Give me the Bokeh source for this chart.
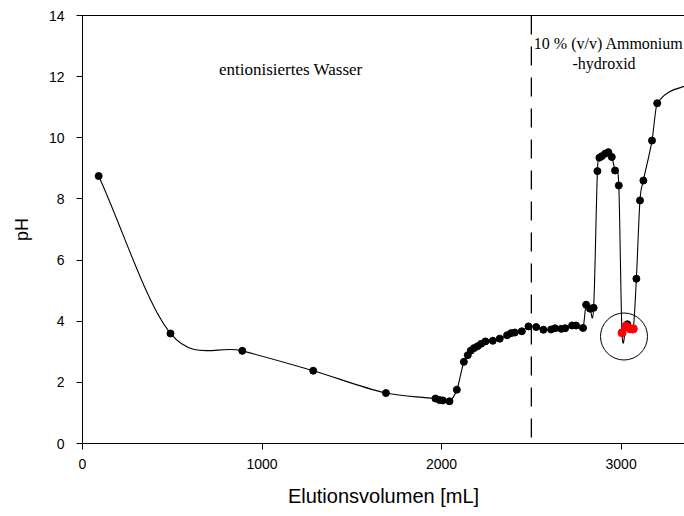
import numpy as np
from bokeh.plotting import figure
from bokeh.models import Range1d, LinearAxis, Span, FixedTicker
from bokeh.core.properties import value
from bokeh.embed import file_html
from bokeh.resources import INLINE

# --- data ---
black_x = [90, 490, 890, 1285, 1690, 1966, 1989, 2007, 2044, 2085, 2124, 2146,
           2163, 2181, 2200, 2220, 2244, 2285, 2324, 2365, 2387, 2408, 2447,
           2484, 2527, 2567, 2610, 2632, 2667, 2688, 2727, 2749, 2788, 2805,
           2827, 2847, 2868, 2879, 2892, 2911, 2929, 2948, 2966, 2987, 3035,
           3085, 3105, 3124, 3172, 3201, 3400]
black_y = [8.75, 3.60, 3.03, 2.38, 1.65, 1.47, 1.42, 1.41, 1.38, 1.76, 2.67, 2.89,
           3.04, 3.12, 3.18, 3.26, 3.34, 3.36, 3.43, 3.54, 3.61, 3.63, 3.67,
           3.83, 3.81, 3.72, 3.73, 3.77, 3.75, 3.77, 3.86, 3.86, 3.78, 4.54,
           4.41, 4.44, 8.91, 9.35, 9.40, 9.48, 9.53, 9.37, 8.93, 8.44, 3.90,
           5.39, 7.95, 8.60, 9.91, 11.13, 11.80]
red_x = [3005, 3027, 3050, 3068]
red_y = [3.62, 3.84, 3.75, 3.75]

x_ticks = [0, 1000, 2000, 3000]
y_ticks = [0, 2, 4, 6, 8, 10, 12, 14]

solvent_change = 2500
label_water = "entionisiertes Wasser"
label_nh4_1 = "10 % (v/v) Ammonium"
label_nh4_2 = "-hydroxid"
highlight_center = (3016, 3.5)

# --- smooth curve through all points (cubic Hermite drawn as Bezier) ---
cx = np.array(black_x + red_x, dtype=float)
cy = np.array(black_y + red_y, dtype=float)
order = np.argsort(cx)
cx, cy = cx[order], cy[order]
n = len(cx)
m = np.zeros(n)
m[0] = (cy[1] - cy[0]) / (cx[1] - cx[0])
m[-1] = (cy[-1] - cy[-2]) / (cx[-1] - cx[-2])
for i in range(1, n - 1):
    m[i] = (cy[i + 1] - cy[i - 1]) / (cx[i + 1] - cx[i - 1])
h = cx[1:] - cx[:-1]
x0, y0 = cx[:-1], cy[:-1]
x1, y1 = cx[1:], cy[1:]
cx0, cy0 = x0 + h / 3, y0 + m[:-1] * h / 3
cx1, cy1 = x1 - h / 3, y1 - m[1:] * h / 3

p = figure(width=684, height=516, output_backend="svg", toolbar_location=None,
           x_range=Range1d(0, 3353), y_range=Range1d(0, 14),
           min_border_left=82, min_border_right=0, min_border_top=15,
           min_border_bottom=73)
p.outline_line_color = None
p.xgrid.visible = False
p.ygrid.visible = False
p.background_fill_color = "white"
p.border_fill_color = "white"

p.bezier(x0=x0, y0=y0, x1=x1, y1=y1, cx0=cx0, cy0=cy0, cx1=cx1, cy1=cy1,
         line_color="black", line_width=1.1)
p.scatter(black_x, black_y, size=7, color="black")
p.scatter(red_x, red_y, size=8, color="red")
p.scatter([highlight_center[0]], [highlight_center[1]], size=47,
          fill_color=None, line_color="black", line_width=1)

p.add_layout(Span(location=solvent_change, dimension="height",
                  line_color="black", line_width=1.3, line_dash="19 12"))

p.text([1160], [12.25], text=[label_water], text_align="center",
       text_baseline="middle", text_font=value("Liberation Serif"),
       text_font_size="17px", text_color="black")
p.text([2931], [13.08], text=[label_nh4_1], text_align="center",
       text_baseline="middle", text_font=value("Liberation Serif"),
       text_font_size="16px", text_color="black")
p.text([2905], [12.43], text=[label_nh4_2], text_align="center",
       text_baseline="middle", text_font=value("Liberation Serif"),
       text_font_size="16px", text_color="black")

for ax in (p.xaxis[0], p.yaxis[0]):
    ax.axis_line_color = "black"
    ax.major_tick_line_color = "black"
    ax.minor_tick_line_color = None
    ax.major_tick_in = 0
    ax.major_tick_out = 6
    ax.major_label_text_font = "Liberation Sans"
    ax.major_label_text_font_size = "14px"
    ax.major_label_text_color = "black"
    ax.axis_label_text_font = "Liberation Sans"
    ax.axis_label_text_font_style = "normal"
    ax.axis_label_text_font_size = "18px"
    ax.axis_label_text_color = "black"

p.xaxis[0].ticker = FixedTicker(ticks=x_ticks)
p.yaxis[0].ticker = FixedTicker(ticks=y_ticks)
p.xaxis[0].axis_label = "Elutionsvolumen [mL]"
p.xaxis[0].axis_label_text_font_size = "20px"
p.yaxis[0].axis_label = "pH"
p.xaxis[0].major_label_standoff = 9
p.xaxis[0].axis_label_standoff = 13
p.yaxis[0].major_label_standoff = 12
p.yaxis[0].axis_label_standoff = 14

top = LinearAxis(major_tick_line_color=None, minor_tick_line_color=None,
                 major_label_text_font_size="0px", major_label_standoff=0,
                 major_tick_out=0, major_tick_in=0, axis_line_color="black",
                 ticker=FixedTicker(ticks=[]))
p.add_layout(top, "above")

open("out.html", "w").write(file_html(p, INLINE))
